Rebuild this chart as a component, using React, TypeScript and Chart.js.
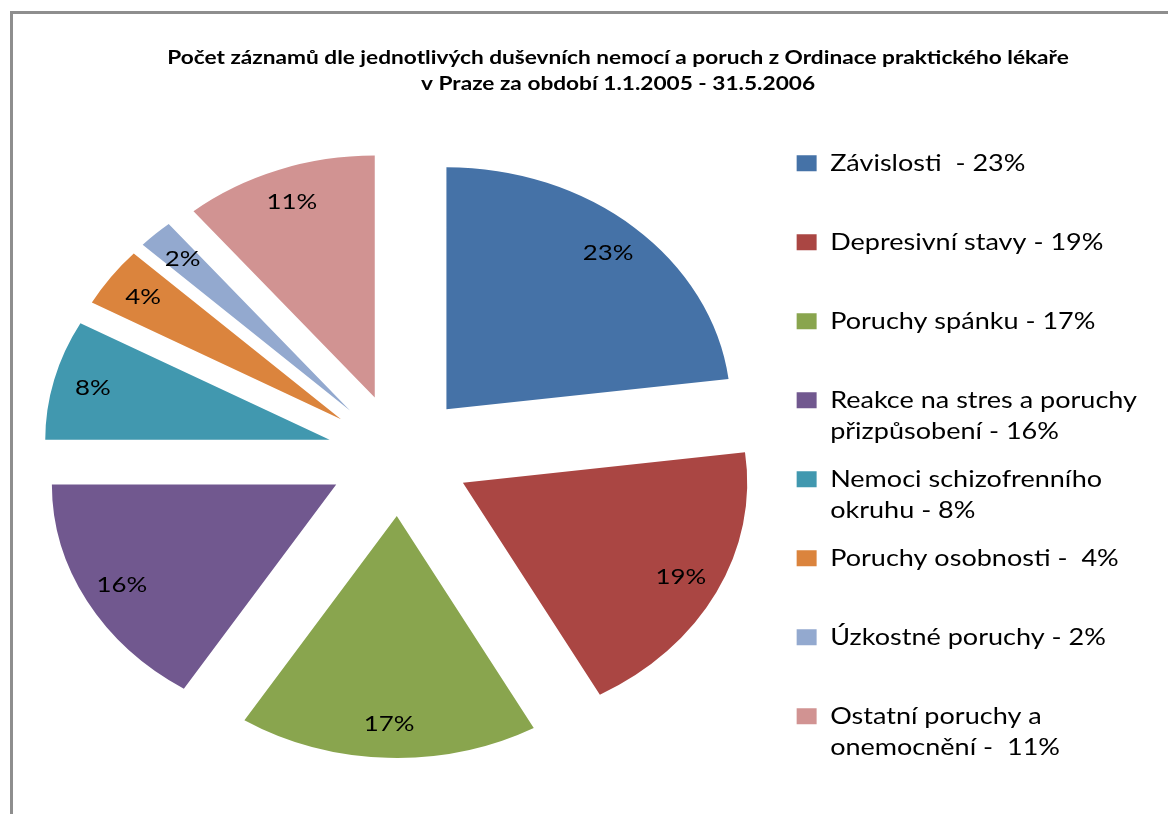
import React, { useEffect, useRef } from 'react';
import { Chart, registerables } from 'chart.js';

Chart.register(...registerables);

// ---- data ----
const categories = [
  'Závislosti',
  'Depresivní stavy',
  'Poruchy spánku',
  'Reakce na stres a poruchy přizpůsobení',
  'Nemoci schizofrenního okruhu',
  'Poruchy osobnosti',
  'Úzkostné poruchy',
  'Ostatní poruchy a onemocnění',
];
const values = [23, 19, 17, 16, 8, 4, 2, 11];
const colors = ['#4572A7', '#AA4643', '#89A54E', '#71588F', '#4198AF', '#DB843D', '#93A9CF', '#D19392'];
const legendLines: string[][] = [
  ['Závislosti  - 23%'],
  ['Depresivní stavy - 19%'],
  ['Poruchy spánku - 17%'],
  ['Reakce na stres a poruchy', 'přizpůsobení - 16%'],
  ['Nemoci schizofrenního', 'okruhu - 8%'],
  ['Poruchy osobnosti -  4%'],
  ['Úzkostné poruchy - 2%'],
  ['Ostatní poruchy a', 'onemocnění -  11%'],
];
const titleLines = [
  'Počet záznamů dle jednotlivých duševních nemocí a poruch z Ordinace praktického lékaře',
  'v Praze za období 1.1.2005 - 31.5.2006',
];

// ---- layout / style ----
const SX = 1.175; // horizontal stretch of the whole drawing
const PIE_CX = 339.6;
const PIE_CY = 455;
const RADIUS = 242;
const EXPLODE = 61;
const LABEL_FRAC = 0.86;
const FONT = 'Lato';

const excelPiePlugin = {
  id: 'excelPie',
  afterLayout(chart: any) {
    const ca = chart.chartArea;
    const dx = PIE_CX - (ca.left + ca.right) / 2;
    const dy = PIE_CY - (ca.top + ca.bottom) / 2;
    ca.left += dx;
    ca.right += dx;
    ca.top += dy;
    ca.bottom += dy;
  },
  beforeDraw(chart: any) {
    chart.ctx.save();
    chart.ctx.scale(SX, 1);
  },
  afterDraw(chart: any) {
    chart.ctx.restore();
  },
  beforeDatasetDraw(chart: any, args: any) {
    const ctx = chart.ctx;
    args.meta.data.forEach((arc: any) => {
      const mid = (arc.startAngle + arc.endAngle) / 2;
      ctx.save();
      ctx.translate(Math.cos(mid) * EXPLODE, Math.sin(mid) * EXPLODE);
      arc.draw(ctx);
      ctx.restore();
    });
    return false;
  },
  afterDatasetsDraw(chart: any) {
    const ctx = chart.ctx;
    const meta = chart.getDatasetMeta(0);
    ctx.save();
    ctx.font = `22px ${FONT}`;
    ctx.fillStyle = '#000';
    ctx.textAlign = 'center';
    ctx.textBaseline = 'middle';
    meta.data.forEach((arc: any, i: number) => {
      const mid = (arc.startAngle + arc.endAngle) / 2;
      const r = arc.outerRadius * LABEL_FRAC + EXPLODE;
      ctx.fillText(`${values[i]}%`, arc.x + Math.cos(mid) * r, arc.y + Math.sin(mid) * r);
    });
    ctx.restore();
  },
};

export default function App() {
  const canvasRef = useRef<HTMLCanvasElement | null>(null);

  useEffect(() => {
    if (!canvasRef.current) return;
    const chart = new Chart(canvasRef.current, {
      type: 'pie',
      data: {
        labels: categories,
        datasets: [
          {
            data: values,
            backgroundColor: colors,
            borderWidth: 0,
            radius: RADIUS,
          } as any,
        ],
      },
      options: {
        responsive: false,
        animation: false,
        devicePixelRatio: 1,
        events: [],
        layout: { padding: { left: 81, right: 197, top: 0, bottom: 0 } },
        plugins: {
          tooltip: { enabled: false },
          title: {
            display: true,
            text: titleLines,
            color: '#000',
            font: { family: FONT, size: 19.3, weight: 'bold', lineHeight: '26px' } as any,
            padding: { top: 45, bottom: 37.7 },
          },
          legend: {
            position: 'right',
            align: 'start',
            fullSize: false,
            maxWidth: 310,
            labels: {
              boxWidth: 17,
              boxHeight: 16,
              padding: 17,
              color: '#000',
              font: { family: FONT, size: 23, lineHeight: '31px' } as any,
              generateLabels: () =>
                legendLines.map((lines, i) => ({
                  text: (lines.length === 1 ? [lines[0], ''] : lines) as any,
                  fillStyle: colors[i],
                  strokeStyle: colors[i],
                  lineWidth: 0,
                  hidden: false,
                  index: i,
                  fontColor: '#000',
                })),
            },
          },
        },
      } as any,
      plugins: [excelPiePlugin as any],
    });
    return () => chart.destroy();
  }, []);

  return (
    <div style={{ position: 'fixed', left: 0, top: 0, width: 1168, height: 814, background: '#fff', overflow: 'hidden' }}>
      <div
        style={{
          position: 'absolute',
          left: 10,
          top: 11,
          width: 1168,
          height: 814,
          borderLeft: '3px solid #8e8e8e',
          borderTop: '3px solid #8e8e8e',
        }}
      />
      <canvas
        ref={canvasRef}
        width={1168}
        height={814}
        style={{ position: 'absolute', left: 0, top: 0, display: 'block', width: 1168, height: 814 }}
      />
    </div>
  );
}
